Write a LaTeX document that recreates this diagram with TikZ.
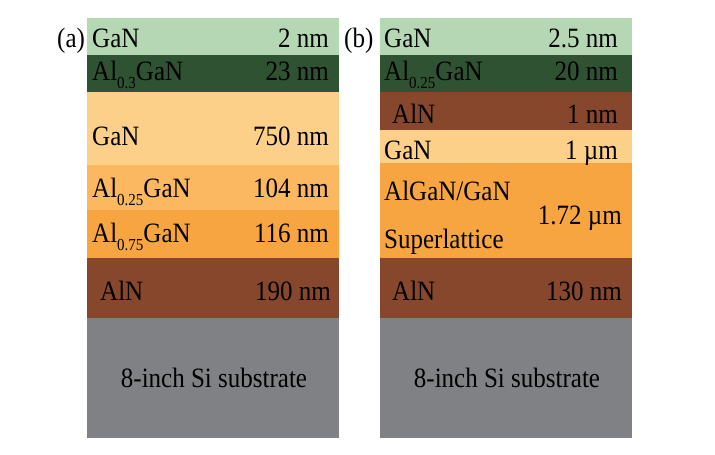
\documentclass[tikz,border=0pt]{standalone}
\usepackage{fontspec}
\usepackage{graphicx}
\setmainfont{Liberation Serif}
\definecolor{lgreen}{HTML}{B6D7B4}
\definecolor{dgreen}{HTML}{2F5232}
\definecolor{lorange}{HTML}{FDD08A}
\definecolor{morange}{HTML}{FBB860}
\definecolor{dorange}{HTML}{F7A540}
\definecolor{brownaln}{HTML}{87472C}
\definecolor{sigrey}{HTML}{808184}
\newcommand{\sbs}[1]{\raisebox{-8pt}{\fontsize{15}{15}\selectfont #1}}
\newcommand{\tx}[1]{\scalebox{1}[1.12]{#1}}
\begin{document}
\begin{tikzpicture}[x=1pt,y=-1pt,
  lbl/.style={inner sep=0pt, anchor=base west, font=\fontsize{25}{28}\selectfont},
  val/.style={inner sep=0pt, anchor=base east, font=\fontsize{25}{28}\selectfont},
  mid/.style={inner sep=0pt, anchor=base, font=\fontsize{25}{28}\selectfont}]
\useasboundingbox (0,0) rectangle (715,455);
% panel (a)
\fill[lgreen]   (87,18) rectangle (339,55);
\fill[dgreen]   (87,55) rectangle (339,92);
\fill[lorange]  (87,92) rectangle (339,165);
\fill[morange]  (87,165) rectangle (339,210);
\fill[dorange]  (87,210) rectangle (339,258);
\fill[brownaln] (87,258) rectangle (339,318);
\fill[sigrey]   (87,318) rectangle (339,438);
% panel (b)
\fill[lgreen]   (380,18) rectangle (632,55);
\fill[dgreen]   (380,55) rectangle (632,92);
\fill[brownaln] (380,92) rectangle (632,130);
\fill[lorange]  (380,130) rectangle (632,163);
\fill[dorange]  (380,163) rectangle (632,258);
\fill[brownaln] (380,258) rectangle (632,318);
\fill[sigrey]   (380,318) rectangle (632,438);
% texts (a)
\node[lbl] (la) at (57,47) {\tx{(a)}};
\node[lbl] (a1) at (92,47) {\tx{GaN}};
\node[val] (a1v) at (329,47) {\tx{2 nm}};
\node[lbl] (a2) at (92,80) {\tx{Al\sbs{0.3}GaN}};
\node[val] (a2v) at (329,80) {\tx{23 nm}};
\node[lbl] (a3) at (92,145) {\tx{GaN}};
\node[val] (a3v) at (329,145) {\tx{750 nm}};
\node[lbl] (a4) at (92,197) {\tx{Al\sbs{0.25}GaN}};
\node[val] (a4v) at (329,197) {\tx{104 nm}};
\node[lbl] (a5) at (92,242) {\tx{Al\sbs{0.75}GaN}};
\node[val] (a5v) at (329,242) {\tx{116 nm}};
\node[lbl] (a6) at (100,300) {\tx{AlN}};
\node[val] (a6v) at (331,300) {\tx{190 nm}};
\node[mid] (a7) at (214,387) {\tx{8-inch Si substrate}};
% texts (b)
\node[lbl] (lb) at (344,47) {\tx{(b)}};
\node[lbl] (b1) at (384,47) {\tx{GaN}};
\node[val] (b1v) at (618,47) {\tx{2.5 nm}};
\node[lbl] (b2) at (384,80) {\tx{Al\sbs{0.25}GaN}};
\node[val] (b2v) at (618,80) {\tx{20 nm}};
\node[lbl] (b3) at (392,123) {\tx{AlN}};
\node[val] (b3v) at (618,123) {\tx{1 nm}};
\node[lbl] (b4) at (384,159) {\tx{GaN}};
\node[val] (b4v) at (618,159) {\tx{1 µm}};
\node[lbl] (b5) at (384,200) {\tx{AlGaN/GaN}};
\node[val] (b5v) at (622,224) {\tx{1.72 µm}};
\node[lbl] (b5b) at (384,248) {\tx{Superlattice}};
\node[lbl] (b6) at (392,300) {\tx{AlN}};
\node[val] (b6v) at (622,300) {\tx{130 nm}};
\node[mid] (b7) at (507,387) {\tx{8-inch Si substrate}};
\end{tikzpicture}
\end{document}
